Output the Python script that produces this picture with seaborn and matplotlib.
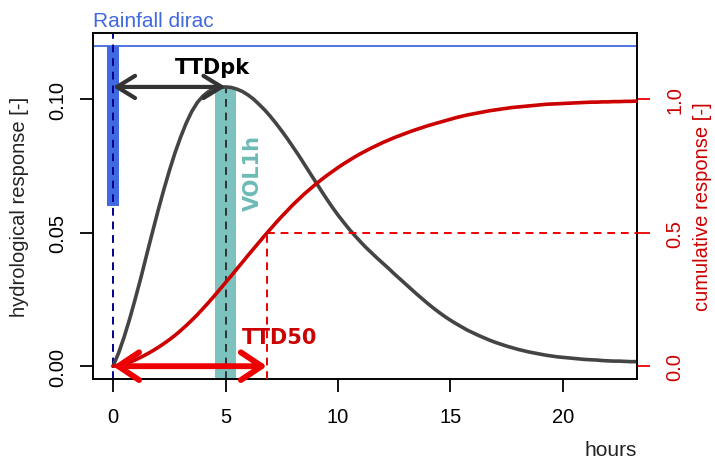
import matplotlib
matplotlib.use("Agg")
import matplotlib.pyplot as plt
import numpy as np
import pandas as pd
import seaborn as sns

# Unit hydrological response (left axis) and its cumulative (right axis),
# sampled every quarter hour
hours = [i * 0.25 for i in range(95)]
response = [
    0.0000, 0.0050, 0.0111, 0.0180, 0.0256, 0.0335, 0.0419, 0.0501,
    0.0582, 0.0659, 0.0731, 0.0798, 0.0857, 0.0910, 0.0954, 0.0988,
    0.1012, 0.1029, 0.1039, 0.1044, 0.1046, 0.1044, 0.1038, 0.1029,
    0.1016, 0.1000, 0.0980, 0.0959, 0.0935, 0.0909, 0.0881, 0.0852,
    0.0821, 0.0790, 0.0757, 0.0724, 0.0691, 0.0658, 0.0626, 0.0595,
    0.0566, 0.0539, 0.0513, 0.0489, 0.0466, 0.0444, 0.0424, 0.0404,
    0.0385, 0.0366, 0.0346, 0.0327, 0.0308, 0.0289, 0.0270, 0.0252,
    0.0234, 0.0217, 0.0201, 0.0186, 0.0172, 0.0159, 0.0147, 0.0135,
    0.0125, 0.0115, 0.0106, 0.0097, 0.0089, 0.0082, 0.0075, 0.0069,
    0.0063, 0.0058, 0.0053, 0.0049, 0.0045, 0.0041, 0.0038, 0.0035,
    0.0033, 0.0031, 0.0029, 0.0027, 0.0025, 0.0024, 0.0023, 0.0021,
    0.0020, 0.0019, 0.0019, 0.0018, 0.0017, 0.0017, 0.0016]
cumulative = [
    0.000, 0.002, 0.008, 0.015, 0.024, 0.034, 0.045, 0.057,
    0.070, 0.084, 0.099, 0.115, 0.133, 0.152, 0.172, 0.193,
    0.216, 0.239, 0.263, 0.288, 0.313, 0.338, 0.364, 0.389,
    0.415, 0.440, 0.465, 0.490, 0.514, 0.538, 0.561, 0.583,
    0.605, 0.625, 0.645, 0.663, 0.681, 0.698, 0.714, 0.729,
    0.744, 0.758, 0.771, 0.784, 0.796, 0.807, 0.818, 0.828,
    0.838, 0.847, 0.856, 0.864, 0.872, 0.880, 0.887, 0.894,
    0.901, 0.907, 0.913, 0.919, 0.925, 0.931, 0.936, 0.941,
    0.945, 0.949, 0.953, 0.957, 0.960, 0.963, 0.966, 0.969,
    0.971, 0.973, 0.975, 0.977, 0.979, 0.981, 0.982, 0.983,
    0.984, 0.985, 0.986, 0.987, 0.988, 0.989, 0.989, 0.990,
    0.990, 0.991, 0.991, 0.992, 0.992, 0.993, 0.993]

# Rainfall pulse and derived metrics
rain_time = 0.0
rain_top = 0.12
rain_bottom = 0.06
peak_time = 5.0
peak_value = 0.1046
vol_window = 0.93
ttd50 = 6.84
half_fraction = 0.5

x_ticks = [0, 5, 10, 15, 20]
left_ticks = [0.00, 0.05, 0.10]
left_labels = ["0.00", "0.05", "0.10"]
right_ticks = [0.0, 0.5, 1.0]
right_labels = ["0.0", "0.5", "1.0"]

df = pd.DataFrame({"hours": hours, "response": response,
                   "cumulative": cumulative})

sns.set_theme(style="ticks")
plt.rcParams["font.family"] = ["Liberation Sans", "DejaVu Sans"]

W, H = 715, 460
fig = plt.figure(figsize=(W / 100, H / 100), dpi=100)
L, R, T, B = 93, 637, 34, 380
ax = fig.add_axes([L / W, 1 - B / H, (R - L) / W, (B - T) / H])

BLUE = "#4169e1"
NAVY = "#00008b"
TEAL = "#7cc3bf"
TEAL_TXT = "#6dbbb6"
GREY = "#444444"
RED = "#cc0000"
RED2 = "#ee0000"

xlim = (-0.89, 23.29)
ylim = (-0.0048, 0.1248)
ax.set_xlim(*xlim)
ax.set_ylim(*ylim)

# rainfall pulse bar and line
ax.bar([rain_time], [rain_top - rain_bottom], bottom=rain_bottom, width=0.53,
       color=BLUE, linewidth=0, zorder=2)
ax.axhline(rain_top, color=BLUE, lw=1.3, zorder=2)
ax.axvline(rain_time, color=NAVY, lw=1.4, ls=(0, (4, 3)), zorder=3)

# one-hour volume window around the peak
ax.bar([peak_time], [peak_value - ylim[0]], bottom=ylim[0], width=vol_window,
       color=TEAL, linewidth=0, zorder=2)
ax.vlines(peak_time, ylim[0], peak_value, color="#333333", lw=1.4,
          linestyles=[(0, (4, 3))], zorder=3)

sns.lineplot(data=df, x="hours", y="response", ax=ax, color=GREY, lw=2.6,
             zorder=4)

ax.annotate("", xy=(peak_time, peak_value), xytext=(rain_time, peak_value),
            arrowprops=dict(arrowstyle="<->,head_length=0.65,head_width=0.4",
                            color="#333333", lw=3, shrinkA=0, shrinkB=0,
                            mutation_scale=20), zorder=6)
ax.text(4.44, 0.1098, "TTDpk", ha="center", va="baseline", fontsize=15,
        fontweight="bold", family="DejaVu Sans", color="black")
ax.text(6.22, 0.0729, "VOL1h", rotation=90, ha="center", va="center",
        fontsize=15, fontweight="bold", family="DejaVu Sans", color=TEAL_TXT)

ax.set_xticks(x_ticks)
ax.set_xticklabels([str(t) for t in x_ticks])
ax.set_yticks(left_ticks)
ax.set_yticklabels(left_labels, rotation=90, va="center")
ax.tick_params(axis="both", length=9.5, width=1.3, color="black",
               labelsize=14.5, labelcolor="black")
ax.tick_params(axis="x", pad=11)
ax.tick_params(axis="y", pad=9)
ax.set_xlabel("")
ax.set_ylabel("hydrological response [-]", fontsize=14.5, color="#222222",
              va="center")
ax.yaxis.set_label_coords((20 - L) / (R - L), 0.5)
for s in ax.spines.values():
    s.set_color("black")
    s.set_linewidth(1.2)

# cumulative response on the right axis
ax2 = ax.twinx()
ax2.set_ylim(ylim[0] * 10, ylim[1] * 10)
ax2.set_xlim(*xlim)
ax2.hlines(half_fraction, ttd50, xlim[1], color=RED2, lw=1.4,
           linestyles=[(0, (4, 3))], zorder=3)
ax2.vlines(ttd50, ylim[0] * 10, half_fraction, color=RED2, lw=1.4,
           linestyles=[(0, (4, 3))], zorder=3)
sns.lineplot(data=df, x="hours", y="cumulative", ax=ax2, color=RED, lw=2.6,
             zorder=4)
ax2.annotate("", xy=(ttd50, 0.0), xytext=(rain_time, 0.0),
             arrowprops=dict(arrowstyle="<->,head_length=0.75,head_width=0.5",
                             color=RED2, lw=4.2, shrinkA=0, shrinkB=0,
                             mutation_scale=20), zorder=6)
ax2.text(7.42, 0.085, "TTD50", ha="center", va="baseline", fontsize=15,
         fontweight="bold", family="DejaVu Sans", color=RED)
ax2.set_yticks(right_ticks)
ax2.set_yticklabels(right_labels, rotation=90, va="center")
ax2.tick_params(axis="y", length=9.5, width=1.3, color=RED2, labelsize=14.5,
                labelcolor=RED, pad=11)
ax2.set_xlabel("")
ax2.set_ylabel("cumulative response [-]", fontsize=14.5, color=RED,
               va="center")
ax2.yaxis.set_label_coords((703 - L) / (R - L), 0.5)
for s in ax2.spines.values():
    s.set_color("black")
    s.set_linewidth(1.2)

ax.text(0.0, (B - 22) / (B - T), "Rainfall dirac", transform=ax.transAxes,
        ha="left", va="center", fontsize=15, color=BLUE)
ax.text(1.0, (B - 451) / (B - T), "hours", transform=ax.transAxes,
        ha="right", va="center", fontsize=15, color="#222222")

fig.savefig("out.png", dpi=100, facecolor="white")
